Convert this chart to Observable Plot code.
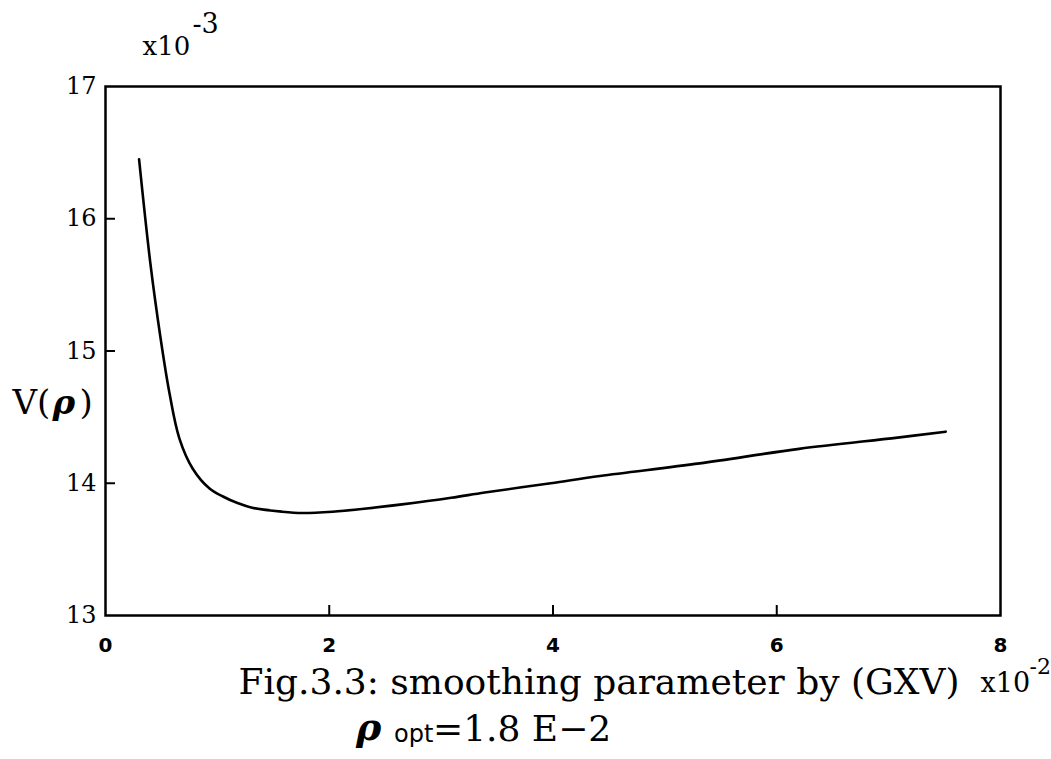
<!DOCTYPE html>
<html>
<head>
<meta charset="utf-8">
<script src="https://cdn.jsdelivr.net/npm/d3@7"></script>
<script src="https://cdn.jsdelivr.net/npm/@observablehq/plot@0.6"></script>
<style>
  body { margin: 0; background: #fff; }
</style>
</head>
<body>
<div id="chart"></div>
<script>
// Smoothing parameter ρ, in units of 10^-2
const rho = [0.30, 0.40, 0.49, 0.57, 0.66, 0.78, 0.93, 1.05, 1.18, 1.31, 1.58, 1.76, 2.03, 2.29, 2.65, 3.09, 3.39, 3.98, 4.42, 5.31, 6.20, 7.08, 7.51];
// Generalized cross-validation function V(ρ), in units of 10^-3
const V = [16.45, 15.67, 15.11, 14.69, 14.34, 14.11, 13.96, 13.90, 13.85, 13.815, 13.785, 13.775, 13.785, 13.805, 13.84, 13.89, 13.93, 14.00, 14.055, 14.15, 14.26, 14.345, 14.39];

const xTickLabels = [0, 2, 4, 6, 8];
const xTickMarks = [2, 4, 6];
const yTickLabels = [13, 14, 15, 16, 17];
const yTickMarks = [14, 15, 16];

const captionLine1 = "Fig.3.3: smoothing parameter by (GXV)";
const rhoSymbol = "ρ";
const optSub = "opt";
const optValue = "=1.8 E−2";

const data = rho.map((r, i) => ({rho: r, v: V[i]}));

const serif = "'DejaVu Serif', serif";
const sans = "'DejaVu Sans', sans-serif";

// Frame geometry (pixels) used for inward tick lengths
const W = 1051, H = 759;
const mL = 105, mR = 51, mT = 86, mB = 144;
const frameW = W - mL - mR, frameH = H - mT - mB;
const tickLen = 10;

const label = (text, opts) => Plot.text([text], {text: d => d, textAnchor: "start", lineAnchor: "middle", fill: "#000", ...opts});

const chart = Plot.plot({
  width: W,
  height: H,
  marginLeft: mL,
  marginRight: mR,
  marginTop: mT,
  marginBottom: mB,
  style: {fontFamily: serif, background: "#fff", color: "#000"},
  x: {domain: [0, 8]},
  y: {domain: [13, 17]},
  marks: [
    Plot.frame({stroke: "#000", strokeWidth: 2.5}),
    // inward tick marks
    Plot.ruleY(yTickMarks, {y: d => d, insetRight: frameW - tickLen, stroke: "#000", strokeWidth: 2}),
    Plot.ruleX(xTickMarks, {x: d => d, insetTop: frameH - tickLen, stroke: "#000", strokeWidth: 2}),
    Plot.axisY(yTickLabels, {tickSize: 0, tickPadding: 9, fontSize: 24, fontFamily: serif, tickFormat: d => String(d), label: null}),
    Plot.axisX(xTickLabels, {tickSize: 0, tickPadding: 22, fontSize: 20, fontWeight: "bold", fontFamily: sans, tickFormat: d => String(d), label: null}),
    Plot.line(data, {x: "rho", y: "v", curve: "catmull-rom", stroke: "#000", strokeWidth: 2.6}),

    // y scale factor
    label("x10", {frameAnchor: "top-left", dx: 37, dy: -40, fontSize: 26}),
    label("-3", {frameAnchor: "top-left", dx: 87, dy: -62, fontSize: 27}),

    // y axis title V(ρ)
    label("V(", {frameAnchor: "left", dx: -93, dy: 52, fontSize: 34}),
    label(rhoSymbol, {frameAnchor: "left", dx: -53, dy: 52, fontSize: 34, fontStyle: "italic", fontWeight: "bold"}),
    label(")", {frameAnchor: "left", dx: -26, dy: 52, fontSize: 34}),

    // x scale factor
    label("x10", {frameAnchor: "bottom-right", dx: -20, dy: 68, fontSize: 27}),
    label("-2", {frameAnchor: "bottom-right", dx: 29, dy: 51, fontSize: 22}),

    // caption
    Plot.text([captionLine1], {frameAnchor: "bottom", text: d => d, dx: 46, dy: 67, fontSize: 36, lineAnchor: "middle", fill: "#000"}),
    label(rhoSymbol, {frameAnchor: "bottom", dx: -197, dy: 112, fontSize: 38, fontStyle: "italic", fontWeight: "bold"}),
    label(optSub, {frameAnchor: "bottom", dx: -159, dy: 119, fontSize: 24, fontFamily: sans}),
    label(optValue, {frameAnchor: "bottom", dx: -120, dy: 114, fontSize: 36})
  ]
});

document.getElementById("chart").append(chart);
</script>
</body>
</html>
